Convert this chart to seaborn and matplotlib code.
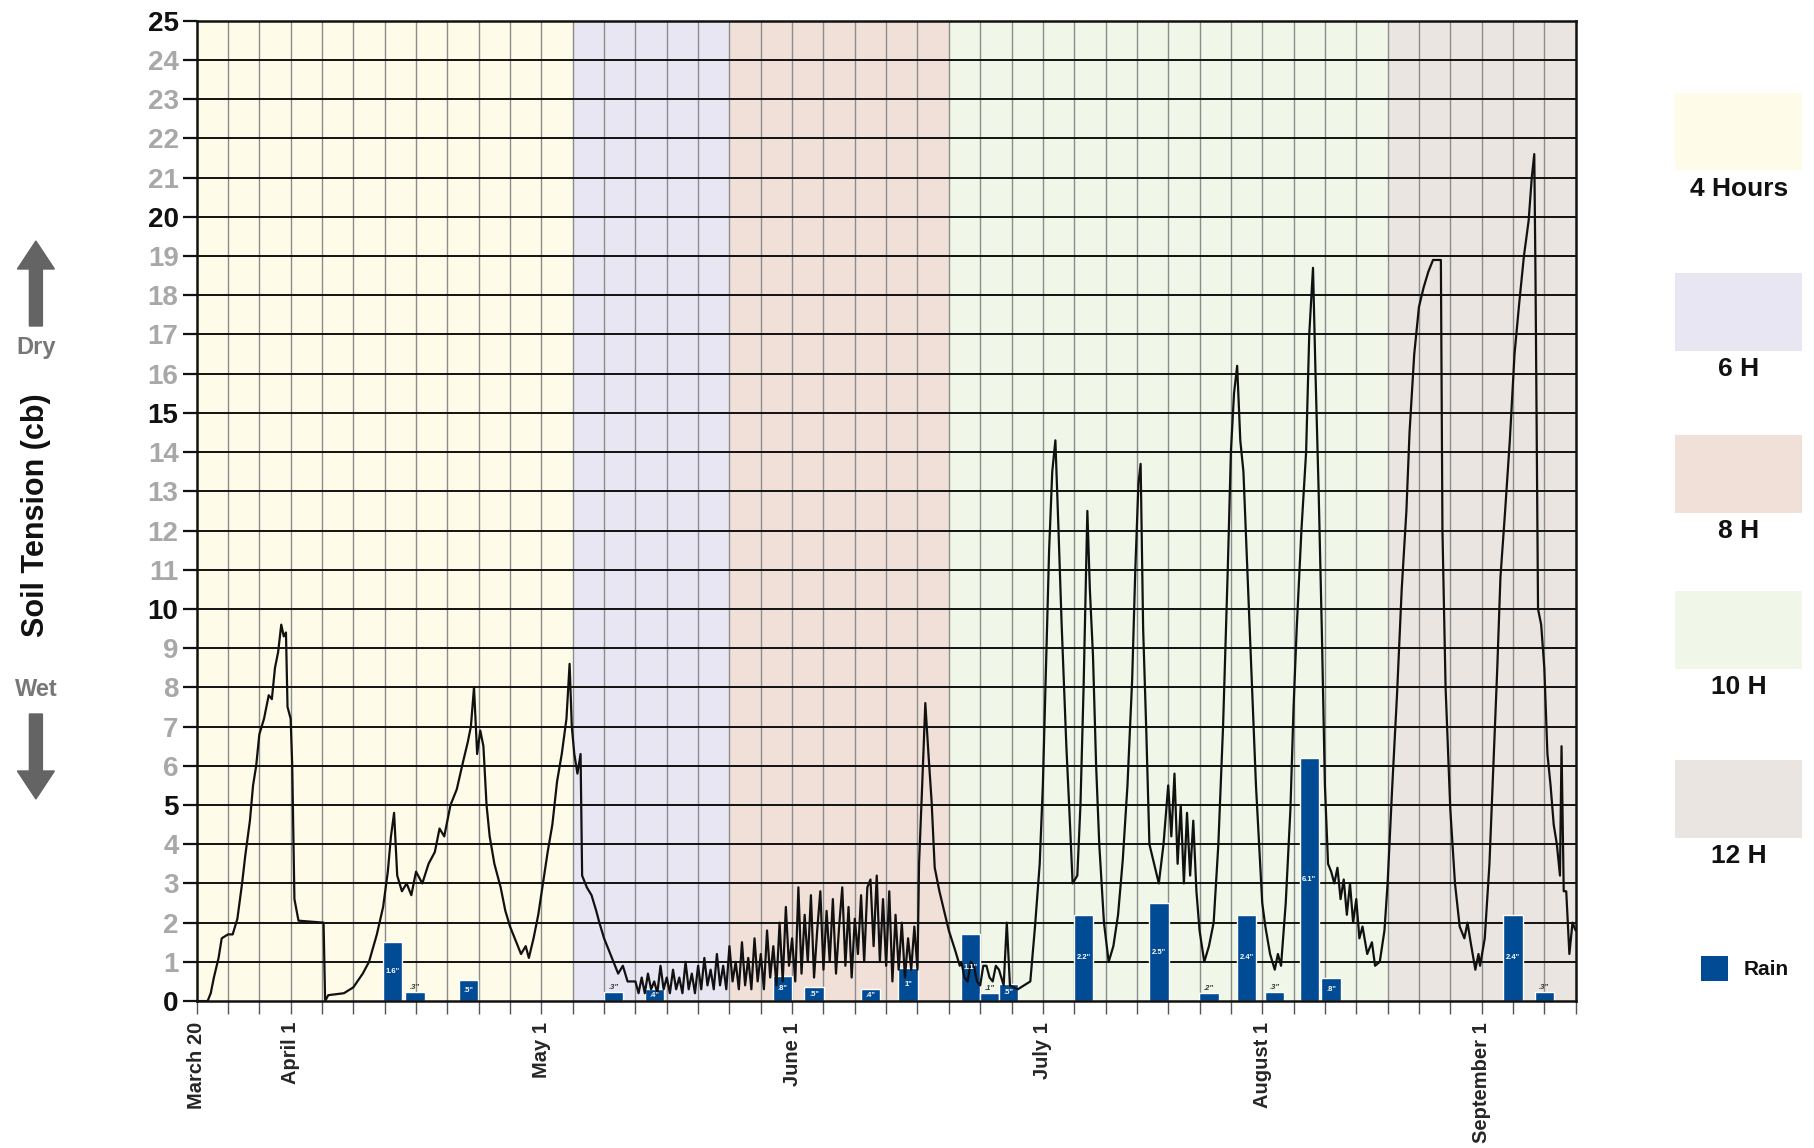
import matplotlib
matplotlib.use("Agg")
import matplotlib.pyplot as plt
from matplotlib.patches import Rectangle, FancyArrow
import seaborn as sns
import pandas as pd

sns.set_style("white")
plt.rcParams['font.family'] = ['Liberation Sans', 'DejaVu Sans']

# x axis is in grid-column units (one vertical grid line per unit)
month_pos = [0, 3, 11, 19, 27, 34, 41]
month_labels = ['March 20', 'April 1', 'May 1', 'June 1', 'July 1', 'August 1', 'September 1']

zone_start = [0, 12, 17, 24, 38]
zone_end = [12, 17, 24, 38, 44]
zone_labels = ['4 Hours', '6 H', '8 H', '10 H', '12 H']
zone_colors = ['#FEFBE9', '#E9E6F4', '#F1E0D8', '#F0F6E8', '#EAE5E0']

# soil tension trace (cb)
tension_x = [0, 0.35, 0.45, 0.55, 0.7, 0.8, 1.0, 1.15, 1.3, 1.45, 1.55, 1.7, 1.8, 1.9, 2.0, 2.15, 2.3, 2.4, 2.5, 2.6,
             2.7, 2.78, 2.85, 2.9, 3.0, 3.05, 3.12, 3.25, 4.05, 4.1, 4.2, 4.7, 5.0, 5.3, 5.5, 5.75, 5.95, 6.1, 6.2, 6.3,
             6.4, 6.55, 6.7, 6.85, 7.0, 7.2, 7.4, 7.6, 7.75, 7.9, 8.1, 8.3, 8.5, 8.65, 8.75, 8.85, 8.95, 9.05, 9.15, 9.25,
             9.35, 9.5, 9.7, 9.85, 10.0, 10.2, 10.35, 10.5, 10.6, 10.75, 10.9, 11.05, 11.2, 11.35, 11.5, 11.65, 11.8, 11.9,
             11.97, 12.05, 12.15, 12.25, 12.3, 12.45, 12.6, 12.75, 12.85, 13.0, 13.15, 13.3, 13.45, 13.6, 13.75,
             14.0, 14.1, 14.2, 14.3, 14.4, 14.5, 14.6, 14.7, 14.8, 14.9, 15.0, 15.1, 15.2, 15.3, 15.4, 15.5, 15.6, 15.7,
             15.8, 15.9, 16.0, 16.1, 16.2, 16.3, 16.4, 16.5, 16.6, 16.7, 16.8, 16.9, 17.0, 17.1, 17.2, 17.3, 17.4, 17.5,
             17.6, 17.7, 17.8, 17.9, 18.0, 18.1, 18.2, 18.3, 18.4, 18.5, 18.6, 18.7, 18.8, 18.9, 19.0, 19.1, 19.2, 19.3,
             19.4, 19.5, 19.6, 19.7, 19.8, 19.9, 20.0, 20.1, 20.2, 20.3, 20.4, 20.5, 20.6, 20.7, 20.8, 20.9, 21.0, 21.1,
             21.2, 21.3, 21.4, 21.5, 21.6, 21.7, 21.8, 21.9, 22.0, 22.1, 22.2, 22.3, 22.4, 22.5, 22.6, 22.7, 22.8, 22.9,
             23.0,
             23.05, 23.15, 23.25, 23.35, 23.45, 23.55, 23.7, 23.85, 24.0, 24.2, 24.35,
             24.4, 24.5, 24.6, 24.7, 24.8, 24.9, 25.0, 25.1, 25.2, 25.3, 25.4, 25.5, 25.6, 25.75, 25.85, 25.95, 26.2, 26.6,
             26.75, 26.9, 27.0, 27.1, 27.2, 27.3, 27.4, 27.5, 27.6, 27.75, 27.85, 27.95, 28.1, 28.2, 28.3, 28.42, 28.5,
             28.6, 28.7, 28.8, 28.95, 29.1, 29.25, 29.4, 29.55, 29.7, 29.85, 29.95, 30.05, 30.12, 30.2, 30.3, 30.4, 30.55,
             30.7, 30.85, 31.0, 31.1, 31.2, 31.3, 31.4, 31.5, 31.6, 31.7, 31.8, 31.9, 32.0, 32.15, 32.3, 32.45, 32.6,
             32.75, 32.9, 33.0, 33.1, 33.2, 33.3, 33.4, 33.5, 33.6, 33.7, 33.8, 33.9, 34.0, 34.1, 34.25, 34.4, 34.5, 34.6,
             34.75, 34.9, 35.0, 35.1, 35.25, 35.4, 35.5, 35.62, 35.7, 35.8, 35.9, 36.0, 36.1, 36.2, 36.3, 36.4, 36.5,
             36.6, 36.7, 36.8, 36.9, 37.0, 37.1, 37.2, 37.35, 37.5, 37.6, 37.75, 37.9, 38.0, 38.15, 38.3, 38.45, 38.6,
             38.7, 38.85, 39.0, 39.15, 39.3, 39.45, 39.7, 39.75, 39.85, 40.0, 40.15, 40.3, 40.45, 40.55, 40.65, 40.8,
             40.9, 40.95, 41.1, 41.25, 41.35, 41.5, 41.6, 41.75, 41.9, 42.05, 42.2, 42.35, 42.5, 42.6, 42.68, 42.72,
             42.8, 42.9, 43.0, 43.1, 43.2, 43.3, 43.4, 43.5, 43.55, 43.62, 43.7, 43.8, 43.9, 44.0]
tension_y = [0, 0, 0.2, 0.6, 1.1, 1.6, 1.7, 1.7, 2.1, 3.0, 3.7, 4.6, 5.5, 6.0, 6.8, 7.2, 7.8, 7.7, 8.5, 8.9,
             9.6, 9.3, 9.4, 7.5, 7.2, 6.0, 2.6, 2.05, 2.0, 0, 0.15, 0.2, 0.35, 0.7, 1.0, 1.7, 2.4, 3.3, 4.2, 4.8,
             3.2, 2.8, 3.0, 2.7, 3.3, 3.0, 3.5, 3.8, 4.4, 4.2, 5.0, 5.4, 6.1, 6.6, 7.0, 8.0, 6.3, 6.9, 6.5, 5.0,
             4.2, 3.5, 2.9, 2.3, 1.9, 1.5, 1.2, 1.4, 1.1, 1.6, 2.2, 3.0, 3.8, 4.5, 5.6, 6.3, 7.2, 8.6,
             7.0, 6.3, 5.8, 6.3, 3.2, 2.9, 2.7, 2.3, 2.0, 1.6, 1.3, 1.0, 0.7, 0.9, 0.5,
             0.5, 0.2, 0.6, 0.2, 0.7, 0.3, 0.5, 0.2, 0.9, 0.3, 0.6, 0.2, 0.8, 0.3, 0.6, 0.2, 1.0, 0.3,
             0.7, 0.2, 0.9, 0.3, 1.1, 0.4, 0.8, 0.3, 1.2, 0.4, 0.9, 0.3, 1.4, 0.5, 1.0, 0.3, 1.5, 0.4,
             1.1, 0.3, 1.6, 0.5, 1.2, 0.3, 1.8, 0.6, 1.4, 0.4, 2.0, 0.5, 2.4, 0.9, 1.6, 0.5, 2.9, 0.7,
             2.2, 1.0, 2.7, 0.6, 1.8, 2.8, 0.8, 2.3, 1.0, 2.6, 0.7, 1.9, 2.9, 0.9, 2.4, 0.6, 2.1, 1.2,
             2.7, 1.0, 2.9, 3.1, 1.4, 3.2, 1.0, 2.6, 0.9, 2.8, 0.5, 2.2, 0.8, 2.0, 0.6, 1.6, 0.8, 1.9,
             0.8,
             3.5, 5.5, 7.6, 6.3, 5.1, 3.4, 2.8, 2.3, 1.8, 1.3, 0.9,
             1.0, 0.6, 0.5, 1.0, 0.9, 0.5, 0.4, 0.9, 0.9, 0.6, 0.5, 0.9, 0.8, 0.4, 2.0, 0.4, 0.3, 0.5,
             1.9, 3.5, 5.5, 8.5, 11.5, 13.5, 14.3, 12.0, 9.6, 6.5, 4.8, 3.0, 3.2, 5.0, 8.0, 12.5, 10.5,
             8.8, 6.0, 4.0, 2.0, 1.0, 1.4, 2.2, 3.6, 5.5, 8.2, 11.0, 13.2, 13.7, 9.5, 6.9, 4.0, 3.5,
             3.0, 4.0, 5.5, 4.2, 5.8, 3.5, 5.0, 3.0, 4.8, 3.2, 4.6, 2.8, 1.8, 1.0, 1.4, 2.0, 4.0,
             7.0, 11.0, 14.0, 15.5, 16.2, 14.3, 13.5, 11.5, 9.5, 7.5, 5.5, 4.0, 2.5, 1.9, 1.2, 0.8, 1.2, 0.9,
             2.5, 4.9, 7.5, 9.5, 12.0, 14.0, 17.0, 18.7, 16.0, 13.0, 9.5, 5.5, 3.5, 3.3, 3.0, 3.4, 2.6,
             3.1, 2.2, 3.0, 2.0, 2.6, 1.6, 1.9, 1.2, 1.5, 0.9, 1.0, 1.8, 3.0, 5.5, 7.8, 10.5, 12.5,
             14.5, 16.5, 17.7, 18.2, 18.6, 18.9, 18.9, 12.0, 8.0, 4.9, 3.0, 1.9, 1.6, 2.0, 1.5, 0.8,
             1.2, 0.9, 1.6, 3.5, 5.5, 8.5, 10.8, 12.5, 14.3, 16.5, 17.8, 19.0, 19.9, 21.0, 21.6, 18.4,
             10.0, 9.6, 8.5, 6.3, 5.5, 4.5, 4.0, 3.2, 6.5, 2.8, 2.8, 1.2, 2.0, 1.8]

# rain events
rain_x = [6.25, 6.97, 8.67, 13.3, 14.6, 18.7, 19.7, 21.5, 22.7, 24.7, 25.3, 25.9, 28.3, 30.7, 32.3, 33.5, 34.4,
          35.5, 36.2, 42.0, 43.0]
rain_h = [1.5, 0.24, 0.53, 0.24, 0.3, 0.65, 0.35, 0.3, 0.85, 1.7, 0.2, 0.44, 2.2, 2.5, 0.2, 2.2, 0.24,
          6.2, 0.6, 2.2, 0.24]
rain_labels = ['1.6"', '.3"', '.5"', '.3"', '.4"', '.8"', '.5"', '.4"', '1"', '1.1"', '.1"', '.5"', '2.2"', '2.5"',
               '.2"', '2.4"', '.3"', '6.1"', '.8"', '2.4"', '.3"']

rain_color = '#014A94'

fig = plt.figure(figsize=(18.14, 11.48), dpi=100)
ax = fig.add_axes([0.1084, 0.128, 0.7602, 0.8539])

for s, e, c in zip(zone_start, zone_end, zone_colors):
    ax.axvspan(s, e, color=c, lw=0, zorder=0)

ax.bar(rain_x, rain_h, width=0.62, color=rain_color, zorder=2)
for x, h, t in zip(rain_x, rain_h, rain_labels):
    if h < 0.3:
        ax.text(x, h + 0.02, t, ha='center', va='bottom', fontsize=5.5, color='#333333',
                fontstyle='italic', fontweight='bold', zorder=5)
    else:
        ax.text(x, h * 0.5, t, ha='center', va='center', fontsize=5.5, color='white',
                fontweight='bold', zorder=5)

df = pd.DataFrame({'x': tension_x, 'y': tension_y})
sns.lineplot(data=df, x='x', y='y', ax=ax, color='#111111', lw=1.6, estimator=None, sort=False, zorder=4)

ax.set_xlim(0, 44)
ax.set_ylim(0, 25)

ax.set_xticks(range(45))
xl = [''] * 45
for p, l in zip(month_pos, month_labels):
    xl[p] = l
ax.set_xticklabels(xl, rotation=90, fontsize=14.5, fontweight='bold', va='top', ha='center')
ax.tick_params(axis='x', length=9, width=1, color='#555555', pad=6, bottom=True)

ax.set_yticks(range(26))
ax.set_yticklabels([str(i) for i in range(26)], fontsize=20, fontweight='bold')
ax.tick_params(axis='y', length=10, width=1.6, color='#111111', pad=3, left=True)
for i, lab in enumerate(ax.get_yticklabels()):
    lab.set_color('#111111' if i % 5 == 0 else '#A8A8A8')

ax.grid(False)
for i in range(1, 44):
    ax.axvline(i, color='#8C8C8C', lw=1.0, zorder=1)
for j in range(1, 26):
    ax.axhline(j, color='#111111', lw=1.4, zorder=1)

for sp in ax.spines.values():
    sp.set_visible(True)
    sp.set_color('#111111')
    sp.set_linewidth(1.8)
ax.set_xlabel('')
ax.set_ylabel('')

# y axis title with dry / wet arrows
fig.text(31 / 1568, 1 - 445 / 992, 'Soil Tension (cb)', rotation=90, ha='center', va='center',
         fontsize=22, fontweight='bold', color='#111111')
fig.text(31 / 1568, 1 - 300 / 992, 'Dry', ha='center', va='center', fontsize=17, fontweight='bold',
         color='#777777')
fig.text(31 / 1568, 1 - 596 / 992, 'Wet', ha='center', va='center', fontsize=17, fontweight='bold',
         color='#777777')
fig.add_artist(FancyArrow(0.359, 8.22, 0, 0.85, width=0.13, head_width=0.37, head_length=0.28,
                          length_includes_head=True, color='#646464', transform=fig.dpi_scale_trans))
fig.add_artist(FancyArrow(0.359, 4.34, 0, -0.85, width=0.13, head_width=0.37, head_length=0.28,
                          length_includes_head=True, color='#646464', transform=fig.dpi_scale_trans))

# legend on the right
box_top = [80, 236, 376, 511, 657]
for top, c, l in zip(box_top, zone_colors, zone_labels):
    fig.add_artist(Rectangle((1448 / 1568, 1 - (top + 67) / 992), 110 / 1568, 67 / 992,
                             transform=fig.transFigure, color=c, lw=0))
    fig.text(1503 / 1568, 1 - (top + 83) / 992, l, ha='center', va='center', fontsize=19,
             fontweight='bold', color='#111111')
fig.add_artist(Rectangle((1470 / 1568, 1 - 848 / 992), 24 / 1568, 22 / 992,
                         transform=fig.transFigure, color=rain_color, lw=0))
fig.text(1507 / 1568, 1 - 838 / 992, 'Rain', ha='left', va='center', fontsize=15, fontweight='bold',
         color='#111111')

fig.savefig('out.png', dpi=100)
